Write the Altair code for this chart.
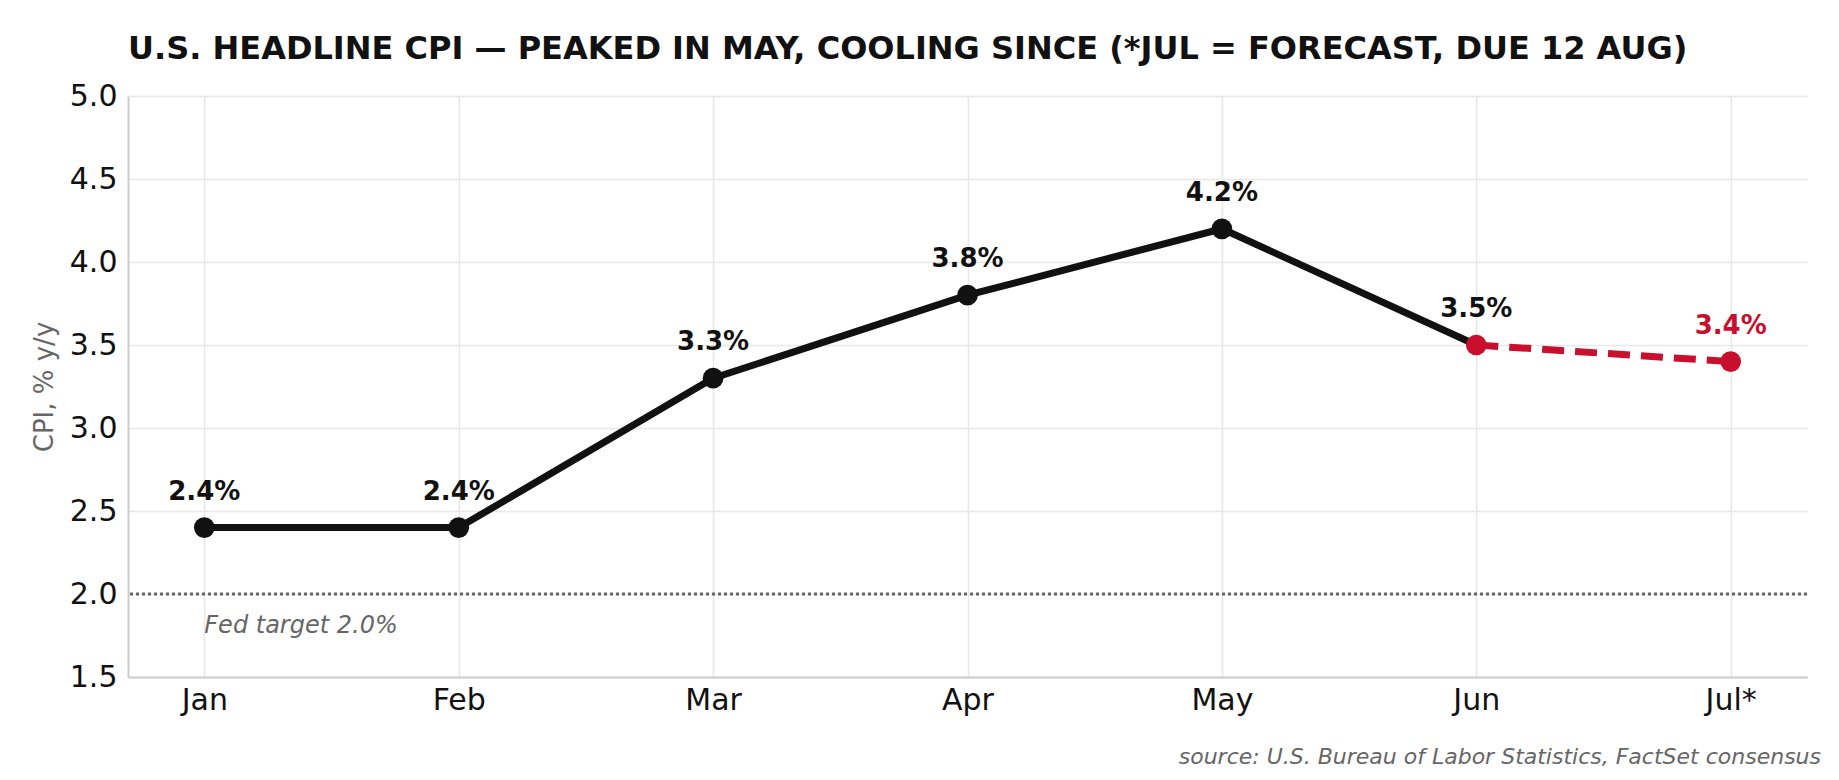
import altair as alt
import pandas as pd

# Values
months = ["Jan", "Feb", "Mar", "Apr", "May", "Jun", "Jul*"]
cpi = [2.4, 2.4, 3.3, 3.8, 4.2, 3.5, 3.4]
point_colors = ["#111111", "#111111", "#111111", "#111111", "#111111", "#c8102e", "#c8102e"]
label_colors = ["#111111", "#111111", "#111111", "#111111", "#111111", "#111111", "#c8102e"]
fed_target = 2.0
y_ticks = [1.5, 2.0, 2.5, 3.0, 3.5, 4.0, 4.5, 5.0]

BLACK = "#111111"
RED = "#c8102e"
GREY = "#666666"
FONT = "DejaVu Sans"

df = pd.DataFrame({
    "month": months,
    "cpi": cpi,
    "point_color": point_colors,
    "label_color": label_colors,
    "label": [f"{v:.1f}%" for v in cpi],
})
actual = df.iloc[:6]
forecast = df.iloc[5:]

x_enc = alt.X("month:N", sort=months, title=None,
              scale=alt.Scale(type="point", padding=0.3),
              axis=alt.Axis(labelAngle=0, labelFontSize=30, labelPadding=8,
                            labelColor=BLACK, ticks=False, grid=True,
                            domainColor="#cccccc", domainWidth=2))
y_enc = alt.Y("cpi:Q", title="CPI, % y/y",
              scale=alt.Scale(domain=[1.5, 5.0], nice=False, zero=False),
              axis=alt.Axis(values=y_ticks, format=".1f", labelFontSize=30,
                            labelPadding=11, labelColor=BLACK, ticks=False,
                            titleFontSize=26, titleColor=GREY, titleFontWeight="normal",
                            titlePadding=12, domainColor="#cccccc", domainWidth=2))

base = alt.Chart(df)

fed_rule = alt.Chart(pd.DataFrame({"cpi": [fed_target]})).mark_rule(
    color=GREY, strokeWidth=3, strokeDash=[3, 3]
).encode(y="cpi:Q")

fed_text = alt.Chart(pd.DataFrame({"month": [months[0]], "cpi": [fed_target],
                                   "t": [f"Fed target {fed_target:.1f}%"]})).mark_text(
    align="left", baseline="alphabetic", dy=39, fontSize=24, fontStyle="italic",
    color=GREY, font=FONT
).encode(x=alt.X("month:N", sort=months), y="cpi:Q", text="t:N")

line_actual = alt.Chart(actual).mark_line(color=BLACK, strokeWidth=7).encode(
    x=x_enc, y=y_enc)
line_forecast = alt.Chart(forecast).mark_line(
    color=RED, strokeWidth=7, strokeDash=[22, 11]
).encode(x=alt.X("month:N", sort=months), y="cpi:Q")

points = base.mark_circle(size=430, opacity=1).encode(
    x=alt.X("month:N", sort=months), y="cpi:Q",
    color=alt.Color("point_color:N", scale=None))

labels = base.mark_text(
    baseline="alphabetic", dy=-28, fontSize=26, fontWeight="bold", font=FONT
).encode(x=alt.X("month:N", sort=months), y="cpi:Q", text="label:N",
         color=alt.Color("label_color:N", scale=None))

source = alt.Chart(pd.DataFrame({"t": ["source: U.S. Bureau of Labor Statistics, FactSet consensus"]})).mark_text(
    align="right", baseline="alphabetic", fontSize=22, fontStyle="italic",
    color=GREY, font=FONT
).encode(x=alt.value(1693), y=alt.value(668), text="t:N")

chart = alt.layer(
    fed_rule, line_actual, line_forecast, points, labels, fed_text, source
).properties(
    width=1679, height=581,
    autosize=alt.AutoSizeParams(type="none"),
    padding={"left": 120, "top": 88, "right": 24, "bottom": 92},
    title=alt.Title(
        "U.S. HEADLINE CPI — PEAKED IN MAY, COOLING SINCE (*JUL = FORECAST, DUE 12 AUG)",
        anchor="start", frame="group", fontSize=32, fontWeight="bold", color=BLACK,
        font=FONT, offset=15,
    ),
).configure(
    font=FONT
).configure_view(
    stroke=None
).configure_axis(
    gridColor="#e8e8e8", gridWidth=1.5, labelFont=FONT, titleFont=FONT
)

chart.save("out.html", embed_options={"renderer": "svg", "actions": False})
